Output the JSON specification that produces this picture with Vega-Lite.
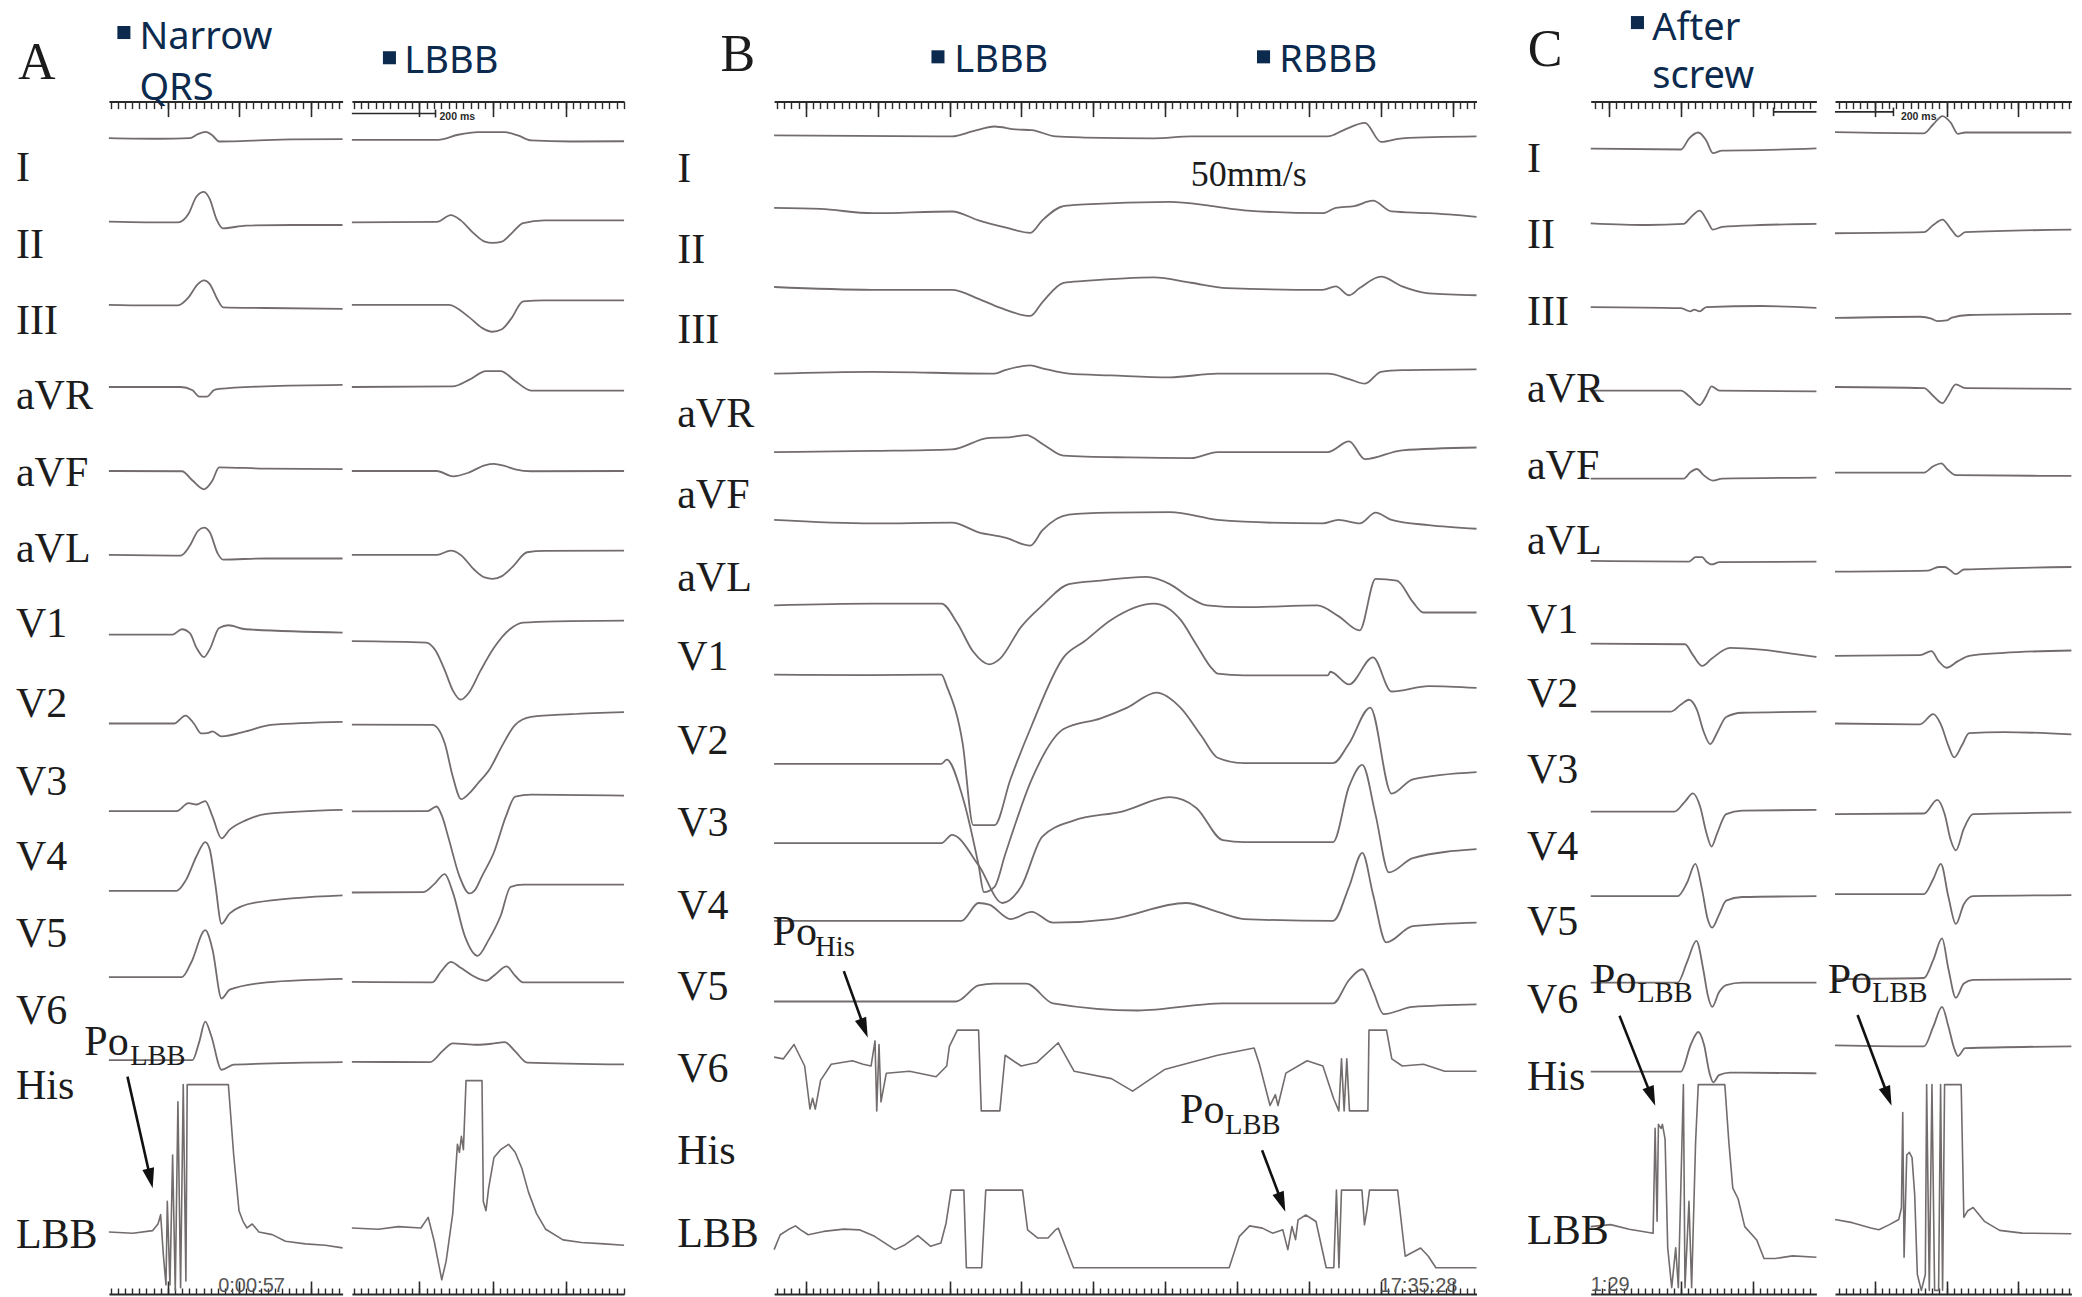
{
"$schema": "https://vega.github.io/schema/vega-lite/v6.json",
"width": 2082, "height": 1297, "autosize": {"type": "none"}, "padding": 0, "background": "white",
"config": {"view": {"stroke": null}},
"datasets": {
"tr": [
{"k":"AL-I","x":[82,120,143,149,155,160,165,175,190,220,258],"y":[104,104.5,104,101,99.4,102,106.6,106.5,106,105,104.8]},
{"k":"AL-II","x":[82,110,134,142,148,153.6,158,163,168,185,220,258],"y":[167,167.5,167.5,161,148,144.5,150,165,172,170,169.5,169.5]},
{"k":"AL-III","x":[82,110,134,142,149,153.6,158,164,168,200,258],"y":[229.6,230,230,224,214,211.2,214,226,231.5,232,232.6]},
{"k":"AL-aVR","x":[82,136,145,150,156,161,165,200,258],"y":[291.5,291.5,294,298.7,298.7,294,293,291,289.9]},
{"k":"AL-aVF","x":[82,137,145,153.6,160,165,200,258],"y":[354.8,355,362,368.6,362,352,353,353.4]},
{"k":"AL-aVL","x":[82,136,143,149,153.6,158,164,168,200,258],"y":[418,418.5,411,400,397.5,401,417,421.5,420.7,420.7]},
{"k":"AL-V1","x":[82,130,137,143,148,153.6,158,165,172,185,258],"y":[478,478,474,477,488,495,489,473,471,474,476.5]},
{"k":"AL-V2","x":[82,131,139.7,146,151.5,157,160,166.9,185,204,258],"y":[545,545,539,545,552.5,552,551,554.7,551,546,543.7]},
{"k":"AL-V3","x":[82,133,142,148,154.6,160,166.9,173,185,201,258],"y":[611,611,605,606,603.4,615,631.6,625,618,613,610]},
{"k":"AL-V4","x":[82,133,140,148,154.6,158,162,166.9,173,192,258],"y":[671,671,663,645,634.3,640,665,695.9,688,680,674.5]},
{"k":"AL-V5","x":[82,137,144,154.6,160,166.9,173,201,258],"y":[736,736,725,700.7,715,752.2,745.5,740,737.4]},
{"k":"AL-V6","x":[82,145,150,154.6,159,166.9,176,258],"y":[798.5,798.5,785,769.6,780,805.8,802,800]},
{"k":"AL-LBB","x":[82,100,115,119,121,123,125,126,128,130,132,134,136,138,140,141,143,172,176,180,183,186,190,195,205,215,230,245,258],"y":[928,929,927,922,915,945,968,905,968,870,972,830,970,817,965,817,817,817,870,912,920,925,922,928,930,935,937,938,940]},
{"k":"AR-I","x":[265,330,345,360,380,390,400,430,470],"y":[105.3,105.3,101.5,99.6,99.6,102,105.8,106.6,106.4]},
{"k":"AR-II","x":[265,329,339.5,347,357,365,371,378,386,394,410,470],"y":[167.5,167.2,162.1,166,176,182,183,182,175,168,166,166]},
{"k":"AR-III","x":[265,338,353,363,370.6,378,385,394,410,470],"y":[229.6,229.6,238.7,247,249.9,248,240,227,226.2,226.2]},
{"k":"AR-aVR","x":[265,341,353.5,366,377,388,400,470],"y":[291.5,291,286,279.5,279.5,287,294.2,294.2]},
{"k":"AR-aVF","x":[265,329,341,353,365,372,380,388,400,470],"y":[354.8,354.8,358.8,356,350.5,349.4,351,353.5,355,354.8]},
{"k":"AR-aVL","x":[265,329,339.5,347,357,365,371,378,386,397,410,470],"y":[418,418,414.8,418,429,435,436,434,427,416,415,414.8]},
{"k":"AR-V1","x":[265,321,328,335,341,347,353,362,372,384,394,420,470],"y":[483,484,490,505,520,527,522,505,488,474,469,468,467.5]},
{"k":"AR-V2","x":[265,325.6,335,341,347.3,353,360,369,378,388,400,430,470],"y":[545.8,546,560,585,602,598,590,579,562,546,540,538,536.4]},
{"k":"AR-V3","x":[265,322,328.7,333,338,346,353.5,358,363,372,381,388,400,470],"y":[611.2,611,607.5,615,632,660,673,670,660,642,615,600,598.6,599.4]},
{"k":"AR-V4","x":[265,319,327,334.9,341,350,359.7,368,377,384.6,394,470],"y":[672.3,672,666,658.4,672,705,720,708,690,668,666.4,666.4]},
{"k":"AR-V5","x":[265,325.6,332,339.5,347,356,366,373,381.5,388,394,470],"y":[739.6,740,732,724.5,729,735,738.8,734,728,735,740,740]},
{"k":"AR-V6","x":[265,324,333,341,359.7,372,380,388,397,470],"y":[799.9,800,792,786,787,786,785,792,800.4,801.8]},
{"k":"AR-LBB","x":[265,285,300,317,322.5,327,332.7,336,341,344.5,346,347.5,349,351,363,364,366,368,372,377,383,388,393,398,404,411,424,438,455,470],"y":[925,926,924,925,917,935,964,950,914,862,868,856,866,814,814,905,912,895,872,866,862,868,880,898,914,926,934,936,937,938]},
{"k":"B-I","x":[583,717,733,749,765,777,795,817,869,897,1000,1012,1028,1040,1056,1112],"y":[102,102.8,98.8,95.3,97.5,98,102.8,103.6,104.2,102.8,102.8,98,92.6,106.9,104.2,102.8]},
{"k":"B-II","x":[583,618,657,717,737,757,776,785,801,817,881,913,937,996,1006,1020,1034,1048,1076,1112],"y":[156.6,157.4,160.6,159.3,166,171.3,175.4,166,155.2,153.9,152,155.2,158.4,160.6,156.6,155.2,151.2,159.3,160.6,163.3]},
{"k":"B-III","x":[583,657,717,737,753,776,785,801,817,869,897,924,996,1006,1016,1024,1040,1056,1076,1112],"y":[216.2,218.3,218.3,225.1,231.8,238,227.7,213,211.6,208.9,213,217,218.3,215.7,222.4,217,208.4,215.7,221,222.4]},
{"k":"B-aVR","x":[583,657,749,757,776,785,805,837,881,917,1000,1016,1028,1040,1056,1112],"y":[281.5,280.1,281.5,278.8,275.3,277.4,281.5,282.8,284.2,281.5,281.5,285.5,289,280.1,278.8,278.2]},
{"k":"B-aVF","x":[583,657,717,745,760,773,786,801,850,897,917,1000,1016,1028,1056,1112],"y":[340.5,339.7,338.5,329.8,329.5,327.7,335,343.2,344.6,345.1,340.5,340.5,332.5,345.9,339.2,337.1]},
{"k":"B-aVL","x":[583,657,717,737,757,776,785,805,837,881,917,937,996,1008,1024,1036,1048,1076,1112],"y":[391.6,394.3,393.7,401,405,411,399.6,387.6,386.2,385.7,391.6,393,394.3,391.6,394.3,386.2,391.6,395.6,398.3]},
{"k":"B-V1","x":[583,657,709,721,733,745,753,769,785,805,829,863,881,897,909,937,992,1008,1024,1036,1052,1064,1072,1112],"y":[456,454.7,454.7,469.5,491,500.4,496.3,472.2,456,440,437.3,434.6,440,450.7,456,457.4,456,464.1,474.9,436,437.3,453.4,461.4,461.4]},
{"k":"B-V2","x":[583,650,709,713,725,733,749,761,777,801,817,837,869,889,901,913,917,937,1000,1002,1016,1034,1048,1076,1112],"y":[508.2,508.5,508.2,516.8,560,621.6,621.6,587,546.5,495.2,482.9,466.8,454.7,466.8,485.6,503.9,507.4,508.7,508.7,506,515.5,495.2,520.9,516.8,518.2]},
{"k":"B-V3","x":[583,709,713,725,737,741,749,757,777,801,829,849,871,889,905,917,937,1004,1016,1032,1048,1064,1112],"y":[575.4,575.4,572.2,600.5,651.8,672,668,643.7,587,549.2,541.1,533,521.7,533,554.6,570.8,574.9,574.9,560,533,597.8,587,581.6]},
{"k":"B-V4","x":[583,709,717,737,755,769,785,809,845,881,901,921,937,1004,1016,1026,1036,1046,1064,1112],"y":[635.1,635.1,628.9,651.8,680.2,668,630.2,618,611.3,600.5,608.6,632.9,634.3,634.3,592.4,576.2,614,657.2,646.4,639.7]},
{"k":"B-V5","x":[583,724,737,745,761,777,793,837,893,917,937,1004,1016,1026,1034,1044,1064,1112],"y":[693.7,693.7,680.2,681.5,692.3,686.9,695,692.3,680.2,686.9,692.3,693.7,668,642.4,673.4,709.9,697.7,695]},
{"k":"B-V6","x":[583,720,737,749,773,793,857,921,1004,1016,1026,1034,1042,1064,1112],"y":[754.4,754.4,742.3,740.9,740.9,755.8,761.2,755.8,755.8,738.2,730.1,746.3,763.9,758.5,756.6]},
{"k":"B-His","x":[583,590,598,606,610,612,614,618,626,642,650,656,659,660.3,662,663.5,667.5,685,705,713,715,721,737,739,753,757,769,781,797,809,837,853,877,917,944.5,948.5,956.5,960.5,962.5,968.4,984.4,996.3,1004.3,1008.3,1010.3,1012.3,1014.3,1016.3,1030.2,1031,1044.2,1048.2,1056.1,1072.1,1088,1112],"y":[796.3,797.6,786.8,803,835.4,827.3,835.4,813.8,801.7,799,801.7,803,784.1,836.8,786.8,830,808.4,807,811.1,803,788.2,776,776,836.8,836.8,794.9,803,800.3,785.5,807,812.5,821.9,805.7,794.9,789.5,801.7,832.7,824.6,832.7,808.4,799,803,827.3,836.8,797.6,836.8,797.6,836.8,836.8,776,776,797.6,803,801.7,807,807]},
{"k":"B-LBB","x":[583,587.6,593.4,599.1,603,608.7,620.3,635.6,647.2,658.7,674,681.7,691.3,700.9,708.6,712.5,716.3,725.9,727.8,739.3,742.4,770.1,773.9,781.6,789.3,795,797,808.5,925.7,933.4,941.1,950.7,958.4,966.1,969.9,973,975.7,977.6,983.4,991.1,998.8,1004.5,1006.5,1008.4,1010.3,1025.7,1027.6,1029.5,1031.4,1052.6,1058.3,1069.9,1075.7,1081.4,1112],"y":[941.3,930.1,926.4,923.4,926.4,930.1,927.6,925.9,926.4,931.3,941.3,937.6,930.8,938.8,936.3,921.4,896.5,896.5,955,955,896.5,896.5,926.4,932.6,932.6,926.4,925.1,955,955,931.3,923.4,925.1,928.9,926.4,941.3,923.9,933.8,918.9,915.2,920.1,955,955,896.5,955,896.5,896.5,922.6,911.4,896.5,896.5,946.3,940.1,946.3,955,955]},
{"k":"CL-I","x":[1198,1266,1272,1279,1285,1290,1297,1326,1368],"y":[112,112.6,104.4,99.8,105.8,115.3,113.4,113.1,111.8]},
{"k":"CL-II","x":[1198,1241,1268,1273,1280,1286,1290,1297,1326,1368],"y":[168.2,169.5,168.7,164.1,158.7,166.8,173,170.9,169.5,168.7]},
{"k":"CL-III","x":[1198,1266,1273,1276,1280,1285,1326,1368],"y":[231.3,232.1,234.6,233.2,234.6,231.3,230.5,231.9]},
{"k":"CL-aVR","x":[1198,1266,1272,1280,1285,1289,1295,1368],"y":[294.2,294.2,298.3,305.1,298.3,291,294.2,294.8]},
{"k":"CL-aVF","x":[1198,1268,1273,1278,1283,1290,1297,1368],"y":[360.6,360.6,355.8,353.3,357.9,362,360.6,359.8]},
{"k":"CL-aVL","x":[1198,1272,1277,1282,1285,1289,1295,1368],"y":[422.5,423,419.7,419.7,423,425.2,423.5,423]},
{"k":"CL-V1","x":[1198,1269,1275,1282,1289,1303,1326,1348,1368],"y":[484.8,485.3,493.5,501.6,496.2,488.1,489.4,492.1,494.8]},
{"k":"CL-V2","x":[1198,1258,1266,1272,1278,1283,1288,1293,1300,1312,1368],"y":[536.1,536.1,530.7,527.1,534.7,551,560.5,552.3,540.1,536.9,536.1]},
{"k":"CL-V3","x":[1198,1261,1269,1275,1280.5,1285,1289,1293,1300,1312,1368],"y":[611.4,611.4,603.8,597.6,607.9,626.9,637.7,628.3,613.3,610.6,610.1]},
{"k":"CL-V4","x":[1198,1263.5,1270.6,1276.8,1281.9,1286,1289.5,1294.6,1300,1312,1368],"y":[675.1,675.1,664.8,650.8,670.3,692,698.7,689.2,678.4,675.7,675.1]},
{"k":"CL-V5","x":[1198,1263.5,1270.6,1277.6,1282.7,1286,1289.5,1294.6,1300,1312,1368],"y":[740.2,740.2,724.5,708.8,729.9,748.9,758.4,747.5,742.1,740.2,740.2]},
{"k":"CL-V6","x":[1198,1266,1273.4,1279,1283.3,1287.5,1290.3,1294.6,1303,1368],"y":[807.2,807.2,786.8,777.4,786.8,808.5,815.3,809.9,808,808.5]},
{"k":"CL-LBB","x":[1198,1213,1227,1245,1246.5,1248,1249,1251,1252,1254,1256,1259,1262,1264,1267.8,1269,1272,1274,1277,1279,1299,1302,1305,1309,1314,1323,1328.5,1337,1350,1368],"y":[924,922.5,926,929,850,920,847,850,847,858,940,970,940,970,817,970,905,970,860,817,817,860,895,903,924,934,948,948,946,947]},
{"k":"CR-I","x":[1382,1449,1456,1463,1469,1474.6,1480,1560],"y":[99.6,100.4,93.6,87.4,92.2,100.9,99.8,99.8]},
{"k":"CR-II","x":[1382,1449,1456,1463,1469,1474.6,1480,1560],"y":[175.7,174.9,169.5,165.4,172.2,178.2,174.9,173]},
{"k":"CR-III","x":[1382,1446,1454.6,1459,1466,1470,1483,1560],"y":[239.5,238.6,240,241.9,241.4,239.2,237.3,236.5]},
{"k":"CR-aVR","x":[1382,1449,1456,1463,1467,1473,1480,1560],"y":[291.5,292.3,298.3,303.7,298.3,289.6,292.3,292.9]},
{"k":"CR-aVF","x":[1382,1449,1456,1462,1467,1473,1560],"y":[356,356,351.2,349,353.9,357.9,358.5]},
{"k":"CR-aVL","x":[1382,1452,1460,1464.6,1469,1473,1479,1560],"y":[430.6,429.8,427.1,427.1,429.8,432.5,429,427.1]},
{"k":"CR-V1","x":[1382,1446,1454.6,1460,1466,1474.6,1483,1509,1560],"y":[494,493.5,490.5,498,503,498,494,491.8,490]},
{"k":"CR-V2","x":[1382,1446,1456,1461.7,1467.4,1471.7,1477.4,1483,1509,1560],"y":[545,545.6,538,545.6,561.8,570.5,561.8,552.3,551.5,553.2]},
{"k":"CR-V3","x":[1382,1449,1459,1464.6,1469,1473,1479,1486,1560],"y":[613.3,612.8,602.5,613.3,632.3,640.5,624.2,613.3,612]},
{"k":"CR-V4","x":[1382,1449,1456,1461.7,1467.4,1473,1479,1486,1560],"y":[673.5,673.5,662.1,650.7,675.7,696,681.1,675.1,674.3]},
{"k":"CR-V5","x":[1382,1449,1456,1462.6,1467.4,1473,1479,1486,1560],"y":[737.5,736.7,723.1,706.9,729.9,751.6,740.8,738.1,737.5]},
{"k":"CR-V6","x":[1382,1449,1456,1462.6,1467.4,1471.7,1474.6,1480,1560],"y":[787.4,788.2,773.3,758.4,773.3,789.6,795.5,789.6,788.2]},
{"k":"CR-LBB","x":[1382,1395,1409,1415,1423,1430,1432,1433,1434,1436,1438,1440,1442,1444,1447,1450,1451,1453,1455,1457,1460,1461.5,1463,1464.5,1466,1477,1479,1482,1486,1494.5,1506,1523,1560],"y":[918.6,921,925,926.3,922.5,918.6,910,838,947,870,868,872,900,960,972,960,817,972,817,972,972,817,972,817,817,817,917,912,909.6,920,926.8,928.9,929.4]}
],
"labs": [
{"x":12,"y":136,"t":"I"},{"x":12,"y":194,"t":"II"},{"x":12,"y":251.5,"t":"III"},{"x":12,"y":308,"t":"aVR"},{"x":12,"y":366,"t":"aVF"},{"x":12,"y":423,"t":"aVL"},{"x":12,"y":479.5,"t":"V1"},{"x":12,"y":540,"t":"V2"},{"x":12,"y":598.5,"t":"V3"},{"x":12,"y":655,"t":"V4"},{"x":12,"y":713,"t":"V5"},{"x":12,"y":771,"t":"V6"},{"x":12,"y":828,"t":"His"},{"x":12,"y":940,"t":"LBB"},
{"x":510,"y":137,"t":"I"},{"x":510,"y":198,"t":"II"},{"x":510,"y":258,"t":"III"},{"x":510,"y":322,"t":"aVR"},{"x":510,"y":383,"t":"aVF"},{"x":510,"y":445,"t":"aVL"},{"x":510,"y":505,"t":"V1"},{"x":510,"y":568,"t":"V2"},{"x":510,"y":630,"t":"V3"},{"x":510,"y":692,"t":"V4"},{"x":510,"y":753,"t":"V5"},{"x":510,"y":815,"t":"V6"},{"x":510,"y":877,"t":"His"},{"x":510,"y":939,"t":"LBB"},
{"x":1150,"y":129.5,"t":"I"},{"x":1150,"y":187,"t":"II"},{"x":1150,"y":244.5,"t":"III"},{"x":1150,"y":303,"t":"aVR"},{"x":1150,"y":360.5,"t":"aVF"},{"x":1150,"y":417.5,"t":"aVL"},{"x":1150,"y":476.5,"t":"V1"},{"x":1150,"y":532.5,"t":"V2"},{"x":1150,"y":589.5,"t":"V3"},{"x":1150,"y":647.5,"t":"V4"},{"x":1150,"y":704.5,"t":"V5"},{"x":1150,"y":763,"t":"V6"},{"x":1150,"y":821,"t":"His"},{"x":1150,"y":937,"t":"LBB"}
],
"lets": [{"x":13.5,"y":59.5,"t":"A"},{"x":542.7,"y":53.6,"t":"B"},{"x":1150.6,"y":49.7,"t":"C"}],
"ttl": [{"x":105,"y":37,"t":"Narrow"},{"x":105,"y":75.5,"t":"QRS"},{"x":304.5,"y":54.9,"t":"LBBB"},{"x":718.7,"y":54.1,"t":"LBBB"},{"x":963.5,"y":54.1,"t":"RBBB"},{"x":1244.3,"y":30,"t":"After"},{"x":1244.3,"y":66.5,"t":"screw"}],
"bul": [{"x":93.3,"y":24.5},{"x":293.3,"y":43.5},{"x":706.4,"y":42.8},{"x":951.6,"y":42.8},{"x":1233.2,"y":17}],
"note": [{"x":896.7,"y":140.4,"t":"50mm/s"}],
"po": [{"x":63.5,"y":795,"t":"Po"},{"x":581.8,"y":712,"t":"Po"},{"x":888.7,"y":846,"t":"Po"},{"x":1199,"y":748,"t":"Po"},{"x":1376.5,"y":748,"t":"Po"}],
"sub": [{"x":98,"y":802,"t":"LBB"},{"x":614,"y":720,"t":"His"},{"x":922.6,"y":854,"t":"LBB"},{"x":1233,"y":754.5,"t":"LBB"},{"x":1410,"y":754.5,"t":"LBB"}],
"stamp": [{"x":164.3,"y":973,"t":"0:00:57"},{"x":1039,"y":973.5,"t":"17:35:28"},{"x":1198,"y":972.8,"t":"1:29"}],
"bars": [{"x":265,"y":85.5,"x2":328,"y2":85.5},{"x":328,"y":82.5,"x2":328,"y2":88.5},{"x":1335.7,"y":84.3,"x2":1368,"y2":84.3},{"x":1335.7,"y":81,"x2":1335.7,"y2":87.5},{"x":1382,"y":84.3,"x2":1426,"y2":84.3},{"x":1426,"y":81,"x2":1426,"y2":87.5}],
"bartxt": [{"x":331,"y":90.5,"t":"200 ms"},{"x":1431.6,"y":90.5,"t":"200 ms"}],
"arr": [{"x":96,"y":811,"x2":113.2,"y2":887.2},{"x":635.5,"y":731.5,"x2":650.8,"y2":774},{"x":950.5,"y":866.5,"x2":965.2,"y2":905.2},{"x":1219.7,"y":765.2,"x2":1243.6,"y2":825.5},{"x":1399,"y":764.6,"x2":1421.8,"y2":825.4}],
"hd": [{"id":"a","x":115,"y":895},{"id":"b","x":653.5,"y":781.5},{"id":"b","x":968,"y":912.7},{"id":"b","x":1246.6,"y":832.9},{"id":"b","x":1424.6,"y":832.9}]
},
"resolve": {"scale": {"x": "independent"}, "axis": {"x": "independent"}},
"layer": [
{
 "encoding": {
  "x": {"field": "x", "type": "quantitative", "scale": {"domain": [0, 1568], "nice": false, "zero": false}, "axis": null},
  "y": {"field": "y", "type": "quantitative", "scale": {"domain": [0, 977], "reverse": true, "nice": false, "zero": false}, "axis": null}
 },
 "layer": [
  {"data": {"name": "tr"}, "transform": [{"filter": "indexof(datum.k, 'LBB') < 0 && indexof(datum.k, 'His') < 0"}, {"flatten": ["x", "y"]}], "mark": {"type": "line", "interpolate": "monotone", "color": "#736c6c", "strokeWidth": 1.8, "strokeJoin": "round"}, "encoding": {"detail": {"field": "k"}}},
  {"data": {"name": "tr"}, "transform": [{"filter": "indexof(datum.k, 'LBB') >= 0 || indexof(datum.k, 'His') >= 0"}, {"flatten": ["x", "y"]}], "mark": {"type": "line", "color": "#736c6c", "strokeWidth": 1.6, "strokeJoin": "round"}, "encoding": {"detail": {"field": "k"}}},
  {"data": {"name": "bars"}, "mark": {"type": "rule", "color": "#2a2a2a", "strokeWidth": 1.6}, "encoding": {"x2": {"field": "x2"}, "y2": {"field": "y2"}}},
  {"data": {"name": "arr"}, "mark": {"type": "rule", "color": "#111111", "strokeWidth": 2.6}, "encoding": {"x2": {"field": "x2"}, "y2": {"field": "y2"}}},
  {"data": {"name": "hd"}, "transform": [{"filter": "datum.id == 'a'"}], "mark": {"type": "point", "shape": "M0,0L-0.6,-2L0.6,-2Z", "size": 400, "filled": true, "color": "#111111", "opacity": 1, "angle": 347}},
  {"data": {"name": "hd"}, "transform": [{"filter": "datum.id == 'b'"}], "mark": {"type": "point", "shape": "M0,0L-0.6,-2L0.6,-2Z", "size": 400, "filled": true, "color": "#111111", "opacity": 1, "angle": 339}},
  {"data": {"name": "bul"}, "mark": {"type": "point", "shape": "square", "size": 170, "filled": true, "color": "#0c2a4d", "opacity": 1}},
  {"data": {"name": "labs"}, "mark": {"type": "text", "font": "Liberation Serif", "fontSize": 42, "align": "left", "baseline": "alphabetic", "color": "#1c1c1c"}, "encoding": {"text": {"field": "t"}}},
  {"data": {"name": "lets"}, "mark": {"type": "text", "font": "Liberation Serif", "fontSize": 52, "align": "left", "baseline": "alphabetic", "color": "#1c1c1c"}, "encoding": {"text": {"field": "t"}}},
  {"data": {"name": "ttl"}, "mark": {"type": "text", "font": "Noto Sans", "fontSize": 38, "align": "left", "baseline": "alphabetic", "color": "#0c2a4d"}, "encoding": {"text": {"field": "t"}}},
  {"data": {"name": "note"}, "mark": {"type": "text", "font": "Liberation Serif", "fontSize": 36, "align": "left", "baseline": "alphabetic", "color": "#1c1c1c"}, "encoding": {"text": {"field": "t"}}},
  {"data": {"name": "po"}, "mark": {"type": "text", "font": "Liberation Serif", "fontSize": 42, "align": "left", "baseline": "alphabetic", "color": "#1c1c1c"}, "encoding": {"text": {"field": "t"}}},
  {"data": {"name": "sub"}, "mark": {"type": "text", "font": "Liberation Serif", "fontSize": 28.5, "align": "left", "baseline": "alphabetic", "color": "#1c1c1c"}, "encoding": {"text": {"field": "t"}}},
  {"data": {"name": "stamp"}, "mark": {"type": "text", "font": "Liberation Sans", "fontSize": 20, "align": "left", "baseline": "alphabetic", "color": "#555555"}, "encoding": {"text": {"field": "t"}}},
  {"data": {"name": "bartxt"}, "mark": {"type": "text", "font": "Liberation Sans", "fontSize": 10.5, "fontWeight": "bold", "align": "left", "baseline": "alphabetic", "color": "#2a2a2a"}, "encoding": {"text": {"field": "t"}}}
 ]
},
{"data": {"values": [{"r": 0}]}, "mark": {"type": "point", "opacity": 0}, "encoding": {"x": {"field": "r", "type": "quantitative", "scale": {"domain": [-82.5, 244.8], "range": [108.9, 342.6], "nice": false, "zero": false}, "axis": {"orient": "top", "offset": -101.6, "values": [0, 100, 200], "labels": false, "title": null, "grid": false, "domain": true, "domainColor": "#2a2a2a", "domainWidth": 2, "tickColor": "#2a2a2a", "tickWidth": 1.6, "tickSize": -15}}}},
{"data": {"values": [{"r": 0}]}, "mark": {"type": "point", "opacity": 0}, "encoding": {"x": {"field": "r", "type": "quantitative", "scale": {"domain": [-82.5, 244.8], "range": [108.9, 342.6], "nice": false, "zero": false}, "axis": {"orient": "top", "offset": -101.6, "tickCount": 33, "labels": false, "title": null, "grid": false, "domain": false, "tickColor": "#2a2a2a", "tickWidth": 1.4, "tickSize": -7}}}},
{"data": {"values": [{"r": 0}]}, "mark": {"type": "point", "opacity": 0}, "encoding": {"x": {"field": "r", "type": "quantitative", "scale": {"domain": [-82.5, 244.8], "range": [108.9, 342.6], "nice": false, "zero": false}, "axis": {"orient": "bottom", "offset": -3, "values": [0, 100, 200], "labels": false, "title": null, "grid": false, "domain": true, "domainColor": "#2a2a2a", "domainWidth": 2, "tickColor": "#2a2a2a", "tickWidth": 1.6, "tickSize": -13}}}},
{"data": {"values": [{"r": 0}]}, "mark": {"type": "point", "opacity": 0}, "encoding": {"x": {"field": "r", "type": "quantitative", "scale": {"domain": [-82.5, 244.8], "range": [108.9, 342.6], "nice": false, "zero": false}, "axis": {"orient": "bottom", "offset": -3, "tickCount": 33, "labels": false, "title": null, "grid": false, "domain": false, "tickColor": "#2a2a2a", "tickWidth": 1.4, "tickSize": -6}}}},
{"data": {"values": [{"r": 0}]}, "mark": {"type": "point", "opacity": 0}, "encoding": {"x": {"field": "r", "type": "quantitative", "scale": {"domain": [-92.4, 280], "range": [351.9, 624.1], "nice": false, "zero": false}, "axis": {"orient": "top", "offset": -101.6, "values": [0, 100, 200], "labels": false, "title": null, "grid": false, "domain": true, "domainColor": "#2a2a2a", "domainWidth": 2, "tickColor": "#2a2a2a", "tickWidth": 1.6, "tickSize": -15}}}},
{"data": {"values": [{"r": 0}]}, "mark": {"type": "point", "opacity": 0}, "encoding": {"x": {"field": "r", "type": "quantitative", "scale": {"domain": [-92.4, 280], "range": [351.9, 624.1], "nice": false, "zero": false}, "axis": {"orient": "top", "offset": -101.6, "tickCount": 37, "labels": false, "title": null, "grid": false, "domain": false, "tickColor": "#2a2a2a", "tickWidth": 1.4, "tickSize": -7}}}},
{"data": {"values": [{"r": 0}]}, "mark": {"type": "point", "opacity": 0}, "encoding": {"x": {"field": "r", "type": "quantitative", "scale": {"domain": [-92.4, 280], "range": [351.9, 624.1], "nice": false, "zero": false}, "axis": {"orient": "bottom", "offset": -3, "values": [0, 100, 200], "labels": false, "title": null, "grid": false, "domain": true, "domainColor": "#2a2a2a", "domainWidth": 2, "tickColor": "#2a2a2a", "tickWidth": 1.6, "tickSize": -13}}}},
{"data": {"values": [{"r": 0}]}, "mark": {"type": "point", "opacity": 0}, "encoding": {"x": {"field": "r", "type": "quantitative", "scale": {"domain": [-92.4, 280], "range": [351.9, 624.1], "nice": false, "zero": false}, "axis": {"orient": "bottom", "offset": -3, "tickCount": 37, "labels": false, "title": null, "grid": false, "domain": false, "tickColor": "#2a2a2a", "tickWidth": 1.4, "tickSize": -6}}}},
{"data": {"values": [{"r": 0}]}, "mark": {"type": "point", "opacity": 0}, "encoding": {"x": {"field": "r", "type": "quantitative", "scale": {"domain": [-44, 933], "range": [774.1, 1476.5], "nice": false, "zero": false}, "axis": {"orient": "top", "offset": -101.6, "values": [0, 100, 200, 300, 400, 500, 600, 700, 800, 900], "labels": false, "title": null, "grid": false, "domain": true, "domainColor": "#2a2a2a", "domainWidth": 2, "tickColor": "#2a2a2a", "tickWidth": 1.6, "tickSize": -15}}}},
{"data": {"values": [{"r": 0}]}, "mark": {"type": "point", "opacity": 0}, "encoding": {"x": {"field": "r", "type": "quantitative", "scale": {"domain": [-44, 933], "range": [774.1, 1476.5], "nice": false, "zero": false}, "axis": {"orient": "top", "offset": -101.6, "tickCount": 98, "labels": false, "title": null, "grid": false, "domain": false, "tickColor": "#2a2a2a", "tickWidth": 1.4, "tickSize": -7}}}},
{"data": {"values": [{"r": 0}]}, "mark": {"type": "point", "opacity": 0}, "encoding": {"x": {"field": "r", "type": "quantitative", "scale": {"domain": [-44, 933], "range": [774.1, 1476.5], "nice": false, "zero": false}, "axis": {"orient": "bottom", "offset": -3, "values": [0, 100, 200, 300, 400, 500, 600, 700, 800, 900], "labels": false, "title": null, "grid": false, "domain": true, "domainColor": "#2a2a2a", "domainWidth": 2, "tickColor": "#2a2a2a", "tickWidth": 1.6, "tickSize": -13}}}},
{"data": {"values": [{"r": 0}]}, "mark": {"type": "point", "opacity": 0}, "encoding": {"x": {"field": "r", "type": "quantitative", "scale": {"domain": [-44, 933], "range": [774.1, 1476.5], "nice": false, "zero": false}, "axis": {"orient": "bottom", "offset": -3, "tickCount": 98, "labels": false, "title": null, "grid": false, "domain": false, "tickColor": "#2a2a2a", "tickWidth": 1.4, "tickSize": -6}}}},
{"data": {"values": [{"r": 0}]}, "mark": {"type": "point", "opacity": 0}, "encoding": {"x": {"field": "r", "type": "quantitative", "scale": {"domain": [-26, 289.2], "range": [1590.7, 1816.4], "nice": false, "zero": false}, "axis": {"orient": "top", "offset": -101.6, "values": [0, 100, 200], "labels": false, "title": null, "grid": false, "domain": true, "domainColor": "#2a2a2a", "domainWidth": 2, "tickColor": "#2a2a2a", "tickWidth": 1.6, "tickSize": -15}}}},
{"data": {"values": [{"r": 0}]}, "mark": {"type": "point", "opacity": 0}, "encoding": {"x": {"field": "r", "type": "quantitative", "scale": {"domain": [-26, 289.2], "range": [1590.7, 1816.4], "nice": false, "zero": false}, "axis": {"orient": "top", "offset": -101.6, "tickCount": 32, "labels": false, "title": null, "grid": false, "domain": false, "tickColor": "#2a2a2a", "tickWidth": 1.4, "tickSize": -7}}}},
{"data": {"values": [{"r": 0}]}, "mark": {"type": "point", "opacity": 0}, "encoding": {"x": {"field": "r", "type": "quantitative", "scale": {"domain": [-26, 289.2], "range": [1590.7, 1816.4], "nice": false, "zero": false}, "axis": {"orient": "bottom", "offset": -3, "values": [0, 100, 200], "labels": false, "title": null, "grid": false, "domain": true, "domainColor": "#2a2a2a", "domainWidth": 2, "tickColor": "#2a2a2a", "tickWidth": 1.6, "tickSize": -13}}}},
{"data": {"values": [{"r": 0}]}, "mark": {"type": "point", "opacity": 0}, "encoding": {"x": {"field": "r", "type": "quantitative", "scale": {"domain": [-26, 289.2], "range": [1590.7, 1816.4], "nice": false, "zero": false}, "axis": {"orient": "bottom", "offset": -3, "tickCount": 32, "labels": false, "title": null, "grid": false, "domain": false, "tickColor": "#2a2a2a", "tickWidth": 1.4, "tickSize": -6}}}},
{"data": {"values": [{"r": 0}]}, "mark": {"type": "point", "opacity": 0}, "encoding": {"x": {"field": "r", "type": "quantitative", "scale": {"domain": [-55.2, 273.6], "range": [1835, 2071.4], "nice": false, "zero": false}, "axis": {"orient": "top", "offset": -101.6, "values": [0, 100, 200], "labels": false, "title": null, "grid": false, "domain": true, "domainColor": "#2a2a2a", "domainWidth": 2, "tickColor": "#2a2a2a", "tickWidth": 1.6, "tickSize": -15}}}},
{"data": {"values": [{"r": 0}]}, "mark": {"type": "point", "opacity": 0}, "encoding": {"x": {"field": "r", "type": "quantitative", "scale": {"domain": [-55.2, 273.6], "range": [1835, 2071.4], "nice": false, "zero": false}, "axis": {"orient": "top", "offset": -101.6, "tickCount": 33, "labels": false, "title": null, "grid": false, "domain": false, "tickColor": "#2a2a2a", "tickWidth": 1.4, "tickSize": -7}}}},
{"data": {"values": [{"r": 0}]}, "mark": {"type": "point", "opacity": 0}, "encoding": {"x": {"field": "r", "type": "quantitative", "scale": {"domain": [-55.2, 273.6], "range": [1835, 2071.4], "nice": false, "zero": false}, "axis": {"orient": "bottom", "offset": -3, "values": [0, 100, 200], "labels": false, "title": null, "grid": false, "domain": true, "domainColor": "#2a2a2a", "domainWidth": 2, "tickColor": "#2a2a2a", "tickWidth": 1.6, "tickSize": -13}}}},
{"data": {"values": [{"r": 0}]}, "mark": {"type": "point", "opacity": 0}, "encoding": {"x": {"field": "r", "type": "quantitative", "scale": {"domain": [-55.2, 273.6], "range": [1835, 2071.4], "nice": false, "zero": false}, "axis": {"orient": "bottom", "offset": -3, "tickCount": 33, "labels": false, "title": null, "grid": false, "domain": false, "tickColor": "#2a2a2a", "tickWidth": 1.4, "tickSize": -6}}}}
]
}
